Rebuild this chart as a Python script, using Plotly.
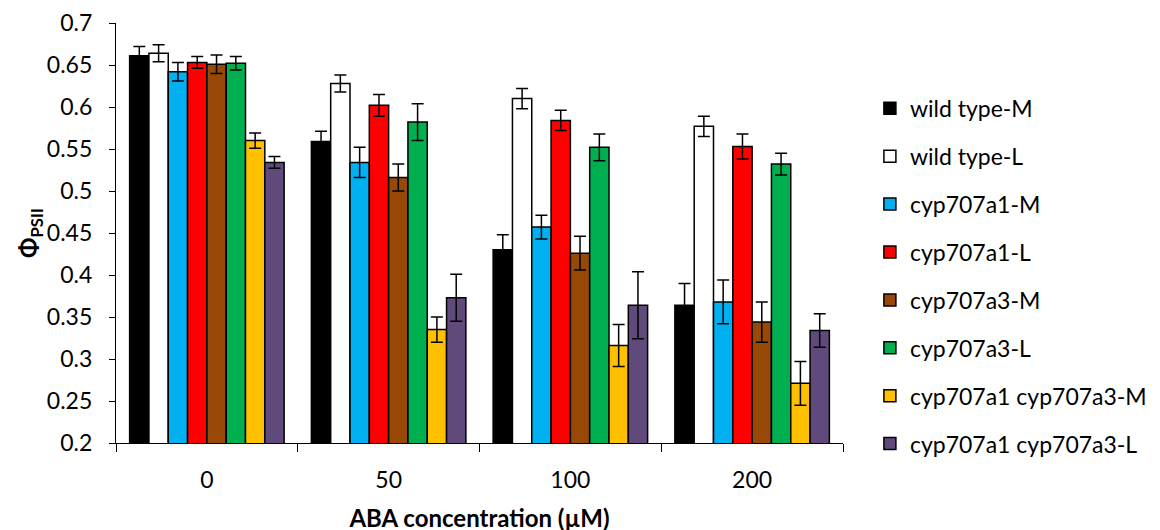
import plotly.graph_objects as go

categories = ["0", "50", "100", "200"]
series_names = ["wild type-M", "wild type-L", "cyp707a1-M", "cyp707a1-L",
                "cyp707a3-M", "cyp707a3-L", "cyp707a1 cyp707a3-M", "cyp707a1 cyp707a3-L"]
colors = ["#000000", "#FFFFFF", "#00B0F0", "#FF0000", "#984807", "#00B050", "#FFC000", "#604A7B"]

wt_M = [0.661, 0.559, 0.430, 0.364]
wt_L = [0.664, 0.628, 0.610, 0.577]
a1_M = [0.642, 0.534, 0.457, 0.368]
a1_L = [0.653, 0.602, 0.584, 0.553]
a3_M = [0.651, 0.516, 0.426, 0.344]
a3_L = [0.652, 0.582, 0.552, 0.532]
dbl_M = [0.560, 0.335, 0.316, 0.271]
dbl_L = [0.534, 0.373, 0.364, 0.334]

wt_M_err = [0.011, 0.012, 0.018, 0.026]
wt_L_err = [0.010, 0.010, 0.012, 0.012]
a1_M_err = [0.011, 0.018, 0.014, 0.026]
a1_L_err = [0.007, 0.013, 0.012, 0.015]
a3_M_err = [0.011, 0.016, 0.020, 0.024]
a3_L_err = [0.008, 0.022, 0.016, 0.013]
dbl_M_err = [0.009, 0.015, 0.025, 0.026]
dbl_L_err = [0.007, 0.028, 0.040, 0.020]

values = [wt_M, wt_L, a1_M, a1_L, a3_M, a3_L, dbl_M, dbl_L]
errors = [wt_M_err, wt_L_err, a1_M_err, a1_L_err, a3_M_err, a3_L_err, dbl_M_err, dbl_L_err]

FONT = "Lato"

fig = go.Figure()
for i, (name, vals, errs, col) in enumerate(zip(series_names, values, errors, colors)):
    fig.add_trace(go.Bar(
        x=categories, y=vals, name=name, legendgroup=str(i),
        marker=dict(color=col, line=dict(color="black", width=1.5)),
        error_y=dict(type="data", array=errs, visible=True, color="black",
                     thickness=1.5, width=6),
    ))

fig.update_layout(
    width=1160, height=530,
    margin=dict(l=108, r=325, t=15, b=95, autoexpand=False),
    plot_bgcolor="white", paper_bgcolor="white",
    barmode="group", bargap=0.15, bargroupgap=0,
    font=dict(family=FONT, size=23, color="black"),
    legend=dict(x=1.037, xanchor="left", y=0.848, yanchor="top",
                tracegroupgap=15, font=dict(family=FONT, size=23, color="black"),
                bgcolor="rgba(0,0,0,0)"),
    xaxis=dict(
        type="category", showline=True, linecolor="black", linewidth=1.3,
        ticks="outside", tickson="boundaries", ticklen=8, tickcolor="black", tickwidth=1.3,
        ticklabelstandoff=16, automargin=False,
        tickfont=dict(family=FONT, size=23, color="black"),
        title=dict(text="<b>ABA concentration (µM)</b>", standoff=18,
                   font=dict(family=FONT, size=24, color="black")),
    ),
    yaxis=dict(
        range=[0.2, 0.7], dtick=0.05, tick0=0.2, showgrid=False, zeroline=False,
        showline=True, linecolor="black", linewidth=1.3,
        ticks="outside", ticklen=6, tickcolor="black", tickwidth=1.3,
        ticklabelstandoff=12, automargin=False,
        tickfont=dict(family=FONT, size=23, color="black"),
        title=dict(text="<b>Φ<sub>PSII</sub></b>", standoff=0,
                   font=dict(family=FONT, size=24, color="black")),
    ),
)

fig.write_html("out.html")
